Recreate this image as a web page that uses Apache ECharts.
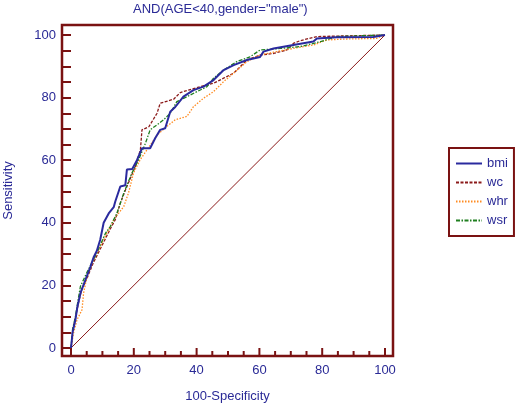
<!DOCTYPE html>
<html>
<head>
<meta charset="utf-8">
<script src="https://cdn.jsdelivr.net/npm/echarts@6/dist/echarts.min.js"></script>
<style>html,body{margin:0;padding:0;background:#fff}#c{width:515px;height:405px}</style>
</head>
<body>
<div id="c"></div>
<script>
const titleText = 'AND(AGE<40,gender="male")';
const xName = '100-Specificity';
const yName = 'Sensitivity';
const seriesNames = ['bmi', 'wc', 'whr', 'wsr'];
const majorTicks = [0, 20, 40, 60, 80, 100];
const minorTicks = [5, 10, 15, 25, 30, 35, 45, 50, 55, 65, 70, 75, 85, 90, 95];
const allTicks = [0,5,10,15,20,25,30,35,40,45,50,55,60,65,70,75,80,85,90,95,100];

const bmi = [[0,0],[0.5,5],[1.4,9],[2,13],[3,17.5],[4.6,21.8],[6.2,26],[7.2,29],[8.2,31],[9.3,34.6],[10.4,40],[12,43],[13.6,45],[14.1,46.8],[15.7,51.6],[17.3,52],[17.8,57],[19.5,57.2],[21,60],[22.6,63.8],[25.2,63.8],[26.8,67],[28.4,69.7],[30,70.2],[31.6,75.5],[33.2,77],[35.8,80.3],[39,82.4],[42.2,83.5],[45.4,85.6],[48.6,88.8],[51.8,90.4],[56,92],[60.2,93],[61.3,94.7],[64.5,95.7],[70.8,96.8],[77.2,97.9],[78.3,98.9],[84.6,99.3],[96.3,99.4],[96.8,100],[100,100]];
const wc = [[0,0],[0.6,6],[1.5,10],[2.5,15],[3.5,19],[5,22],[7,27],[9,31],[11,35],[12.5,38],[14.1,41],[15.7,46.3],[17.8,51.6],[20.5,58],[22.1,63.3],[22.6,69.7],[24.8,70.7],[27.4,75],[28.4,78.2],[32.7,79.5],[34.8,81.6],[37.4,82.4],[41.1,83.5],[45.4,84.6],[48.6,86.2],[51.8,87.8],[53.9,89.9],[56,92],[60.2,93.6],[64.5,94.1],[68.7,95.2],[70.8,97.3],[73,98.2],[78.3,99.5],[86.7,99.7],[100,100]];
const whr = [[0,0],[0.8,4.8],[1.9,9],[3.5,12.2],[4,17.5],[5.1,22.9],[7.2,28],[10.4,34.6],[13.6,41],[16.8,45.2],[18.3,49.5],[19.9,55.9],[22,60.1],[24.2,63.3],[27.4,68],[30.4,70.7],[33.2,72.9],[36.9,74],[39,77.1],[42.2,79.8],[45.4,81.9],[48.6,85.1],[51.8,87.8],[56,91.5],[60.2,93.6],[65.5,94.7],[70.8,95.7],[77.2,96.8],[81.4,98.4],[86.7,98.7],[97.3,98.9],[100,100]];
const wsr = [[0,0],[0.5,6],[1.4,10],[2.2,15],[3,19.7],[5,24],[8.2,30.3],[11,36.7],[12.5,38.8],[14.6,43],[16.8,49.5],[19.4,55.9],[21.5,60.1],[23.7,65.4],[25.2,69.7],[27.4,71.3],[29.5,72.9],[31.6,75],[33.7,78.7],[36.9,80.3],[40.1,81.9],[43.3,83.5],[45.4,86.2],[48.6,88.8],[52.8,91.5],[57,93],[60.2,95.2],[66.6,95.7],[73,96.3],[79.5,97.9],[84.6,99.5],[100,100]];
const diagonal = [[0,0],[100,100]];

const textBlue = '#2a2a96';
const frameColor = '#7a1212';
const font = '"Liberation Sans", Arial, sans-serif';
const X_MIN = -2.87, X_MAX = 102.55, Y_MIN = -2.56, Y_MAX = 103.2;

(function () {
  const chart = echarts.init(document.getElementById('c'), null, {renderer: 'canvas'});
  const lineSeries = (name, data, color, width, type) => ({
    name, type: 'line', data, symbol: 'none', showSymbol: false, animation: false,
    lineStyle: {color, width, type}, itemStyle: {color}, z: 3
  });
  const axisText = {color: textBlue, fontFamily: font, fontSize: 13};
  chart.setOption({
    animation: false,
    backgroundColor: '#ffffff',
    title: {
      text: titleText, left: 133, top: 3, padding: 0,
      textStyle: {color: textBlue, fontFamily: font, fontSize: 13, fontWeight: 'normal'}
    },
    grid: {left: 62, right: 122, top: 25, bottom: 49, containLabel: false, outerBoundsMode: 'none', show: false},
    xAxis: {
      type: 'value', min: X_MIN, max: X_MAX,
      name: xName, nameLocation: 'middle', nameGap: 34,
      nameTextStyle: axisText,
      axisLine: {show: false, onZero: false},
      axisTick: {show: false},
      axisLabel: Object.assign({margin: 8, customValues: majorTicks}, axisText),
      splitLine: {show: false}
    },
    yAxis: {
      type: 'value', min: Y_MIN, max: Y_MAX,
      name: yName, nameLocation: 'middle', nameGap: 47, nameRotate: 90,
      nameTextStyle: axisText,
      axisLine: {show: false, onZero: false},
      axisTick: {show: true, inside: true, length: 9, customValues: allTicks, lineStyle: {color: frameColor, width: 2}},
      axisLabel: Object.assign({margin: 6, customValues: majorTicks}, axisText),
      splitLine: {show: false}
    },
    legend: {
      orient: 'vertical', left: 449, top: 148, padding: [9, 6, 9, 6],
      itemWidth: 26, itemHeight: 12, itemGap: 6,
      borderColor: frameColor, borderWidth: 2, borderRadius: 0,
      data: seriesNames,
      itemStyle: {opacity: 0},
      textStyle: {color: textBlue, fontFamily: font, fontSize: 13}
    },
    series: [
      {type: 'line', data: diagonal, symbol: 'none', lineStyle: {color: '#8b1a1a', width: 1}, z: 1, silent: true},
      lineSeries('wc', wc, '#8b1a1a', 1.3, [3, 1.5]),
      lineSeries('whr', whr, '#ff8c22', 1.3, [1.5, 1.5]),
      lineSeries('wsr', wsr, '#1f7f1f', 1.3, [4, 1.5, 1.5, 1.5]),
      lineSeries('bmi', bmi, '#2a2a9e', 2, 'solid')
    ]
  });

  // frame and bottom tick marks, positioned through the chart's own axis scales
  const px = v => chart.convertToPixel({xAxisIndex: 0}, v);
  const py = v => chart.convertToPixel({yAxisIndex: 0}, v);
  const gLeft = px(X_MIN), gRight = px(X_MAX), gTop = py(Y_MAX), gBottom = py(Y_MIN);
  const tickLine = (t, len) => ({
    type: 'line', z: 100, silent: true,
    shape: {x1: px(t), y1: gBottom, x2: px(t), y2: gBottom - len},
    style: {stroke: frameColor, lineWidth: 2}
  });
  chart.setOption({
    graphic: [
      {type: 'rect', z: 100, silent: true,
       shape: {x: gLeft, y: gTop, width: gRight - gLeft, height: gBottom - gTop},
       style: {fill: null, stroke: frameColor, lineWidth: 2.5}}
    ].concat(majorTicks.map(t => tickLine(t, 8)), minorTicks.map(t => tickLine(t, 5)))
  });
})();
</script>
</body>
</html>
